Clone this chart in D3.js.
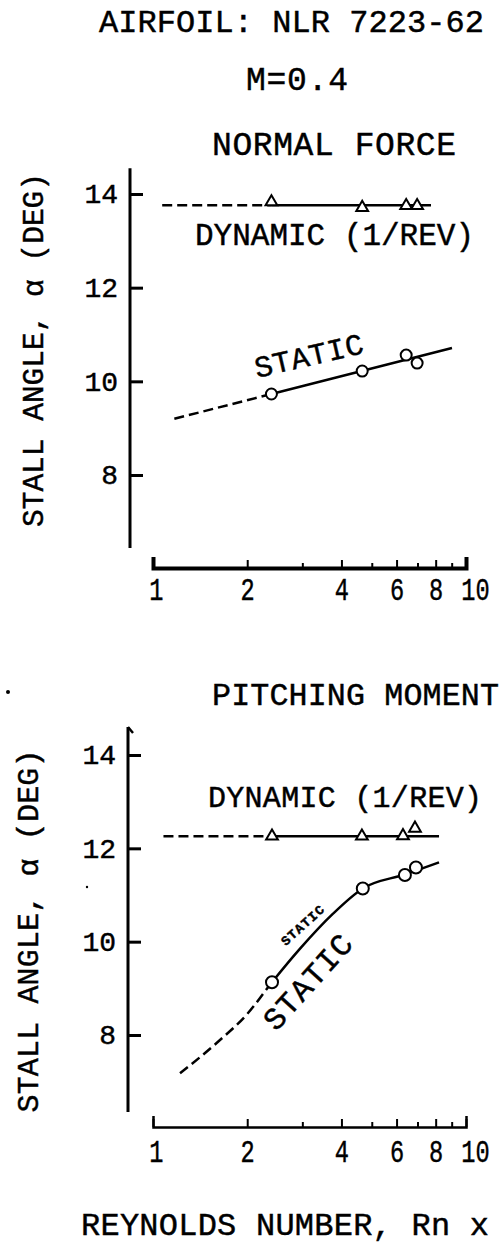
<!DOCTYPE html>
<html>
<head>
<meta charset="utf-8">
<script src="https://cdn.jsdelivr.net/npm/d3@7"></script>
<style>
  html, body { margin: 0; padding: 0; background: #fff; }
  svg text { font-family: "Liberation Mono", "DejaVu Sans Mono", monospace; fill: #000; stroke: #000; stroke-width: 0.45px; }
</style>
</head>
<body>
<svg id="chart" width="500" height="1245"></svg>
<script>
// Axis ticks (Reynolds number x 10^6, stall angle in degrees)
const xTickValues = [1, 2, 4, 6, 8, 10];
const xMinorValues = [3, 5, 7, 9];
const yTickValues = [8, 10, 12, 14];

// Normal force stall: dynamic (1/rev) test points and fairing
const nfDynamicRe = [2.39, 4.66, 6.44, 6.98];
const nfDynamicAlpha = [13.83, 13.71, 13.75, 13.75];
const nfDynamicDashRe = [1.07, 2.39];
const nfDynamicDashAlpha = [13.76, 13.76];
const nfDynamicSolidRe = [2.39, 7.73];
const nfDynamicSolidAlpha = [13.76, 13.76];

// Normal force stall: static test points and fairing
const nfStaticRe = [2.39, 4.66, 6.44, 6.98];
const nfStaticAlpha = [9.73, 10.22, 10.56, 10.39];
const nfStaticFairRe = [1.17, 2.39, 9.02];
const nfStaticFairAlpha = [9.20, 9.73, 10.71];

// Pitching moment stall: dynamic (1/rev) test points and fairing
const pmDynamicRe = [2.40, 4.65, 6.29, 6.87];
const pmDynamicAlpha = [12.26, 12.26, 12.27, 12.43];
const pmDynamicDashRe = [1.08, 2.40];
const pmDynamicDashAlpha = [12.26, 12.26];
const pmDynamicSolidRe = [2.40, 8.20];
const pmDynamicSolidAlpha = [12.26, 12.26];

// Pitching moment stall: static test points and fairing (dashed below Rn = 2.4)
const pmStaticRe = [2.40, 4.68, 6.38, 6.92];
const pmStaticAlpha = [9.13, 11.14, 11.43, 11.59];
const pmStaticFairRe = [1.22, 1.61, 2.00, 2.40, 2.95, 3.76, 4.68, 6.38, 8.20];
const pmStaticFairAlpha = [7.18, 7.85, 8.45, 9.13, 9.85, 10.60, 11.14, 11.44, 11.70];

const zip = (xs, ys) => xs.map((x, i) => [x, ys[i]]);

const svg = d3.select("#chart");
svg.append("rect").attr("width", 500).attr("height", 1245).attr("fill", "#fff");
const defs = svg.append("defs");

// Set a text run to a given overall length (squeezing glyphs only when needed)
function fit(t, len) {
  const natural = t.node().getComputedTextLength();
  t.attr("textLength", len).attr("lengthAdjust", natural > len ? "spacingAndGlyphs" : "spacing");
  return t;
}

function text(x, y, str, size, len, opts = {}) {
  const t = svg.append("text")
    .attr("x", x).attr("y", y)
    .attr("font-size", size)
    .attr("text-anchor", opts.anchor || "start")
    .text(str);
  if (opts.rotate !== undefined) t.attr("transform", `rotate(${opts.rotate},${x},${y})`);
  if (opts.baseline) t.attr("dominant-baseline", opts.baseline);
  if (opts.bold) t.attr("font-weight", "bold");
  if (len) fit(t, len);
  return t;
}

// Headings
text(99, 32, "AIRFOIL: NLR 7223-62", 32, 385);
text(246, 90, "M=0.4", 33, 102);
text(212, 155, "NORMAL FORCE", 33, 244);
text(212, 705, "PITCHING MOMENT", 31.7, 287);
text(81, 1235, "REYNOLDS NUMBER, Rn x", 32, 408);

let clipId = 0;
function panel(cfg) {
  const x = d3.scaleLog().domain([1, 10]).range([153, 466]);
  const y = d3.scaleLinear().domain([8, 14]).range(cfg.yRange);
  const g = svg.append("g");

  // Vertical axis line and ticks
  g.append("line")
    .attr("x1", cfg.axisX).attr("x2", cfg.axisX)
    .attr("y1", y(cfg.yExtent[0])).attr("y2", y(cfg.yExtent[1]))
    .attr("stroke", "#000").attr("stroke-width", 3);
  if (cfg.hook) {
    g.append("path")
      .attr("d", `M${cfg.axisX},${y(cfg.yExtent[1])} l5,6`)
      .attr("stroke", "#000").attr("stroke-width", 2.5).attr("fill", "none");
  }
  const yAxis = g.append("g")
    .attr("transform", `translate(${cfg.axisX},0)`)
    .call(d3.axisLeft(y).tickValues(yTickValues).tickSize(-13).tickPadding(12).tickFormat(d3.format("d")));
  yAxis.select(".domain").remove();
  yAxis.selectAll(".tick line").attr("stroke-width", 3);
  yAxis.selectAll(".tick text").attr("font-size", 28).attr("font-family", null);

  // Reynolds number axis (log), ticks pointing up
  const xAxis = g.append("g")
    .attr("transform", `translate(0,${cfg.xAxisY})`)
    .call(d3.axisBottom(x).tickValues(xTickValues).tickSize(-8).tickSizeOuter(-11).tickFormat(d3.format("d")));
  xAxis.select(".domain").attr("stroke-width", cfg.xAxisWidth);
  xAxis.selectAll(".tick line").attr("stroke-width", 2);
  xAxis.selectAll(".tick text")
    .attr("font-size", 32).attr("font-family", null)
    .attr("stroke-width", 0.7)
    .attr("y", cfg.labelOffset).attr("dy", 0)
    .attr("dx", d => d === 10 ? 12 : (d === 1 ? 4 : 0))
    .attr("transform", "scale(0.74,1)");
  const minor = g.append("g")
    .attr("transform", `translate(0,${cfg.xAxisY})`)
    .call(d3.axisBottom(x).tickValues(xMinorValues).tickSize(-5).tickFormat(""));
  minor.select(".domain").remove();
  minor.selectAll(".tick line").attr("stroke-width", 2);

  // Axis title
  text(cfg.titleX, cfg.titleY, "STALL ANGLE, α (DEG)", cfg.titleSize, cfg.titleLen, { anchor: "middle", rotate: -90 });

  const line = d3.line().x(d => x(d[0])).y(d => y(d[1]));
  const curve = d3.line().x(d => x(d[0])).y(d => y(d[1])).curve(d3.curveMonotoneX);

  const draw = (pts, dashed, gen = line, clip = null) => g.append("path")
    .attr("d", gen(pts))
    .attr("fill", "none").attr("stroke", "#000").attr("stroke-width", 2.5)
    .attr("stroke-dasharray", dashed ? "10,5" : null)
    .attr("clip-path", clip);

  draw(zip(cfg.dynDashRe, cfg.dynDashAlpha), true);
  draw(zip(cfg.dynSolidRe, cfg.dynSolidAlpha), false);

  // Static fairing: one smooth curve, dashed left of the first test point, solid to the right
  const fair = zip(cfg.stFairRe, cfg.stFairAlpha);
  const split = x(cfg.stRe[0]);
  const leftId = `clipL${clipId}`, rightId = `clipR${clipId++}`;
  defs.append("clipPath").attr("id", leftId).append("rect")
    .attr("x", 0).attr("y", 0).attr("width", split).attr("height", 1245);
  defs.append("clipPath").attr("id", rightId).append("rect")
    .attr("x", split).attr("y", 0).attr("width", 500 - split).attr("height", 1245);
  const gen = cfg.curved ? curve : line;
  draw(fair, true, gen, `url(#${leftId})`);
  draw(fair, false, gen, `url(#${rightId})`);

  // Dynamic points: open triangles
  g.selectAll(".tri").data(zip(cfg.dynRe, cfg.dynAlpha)).join("path")
    .attr("transform", d => `translate(${x(d[0])},${y(d[1])})`)
    .attr("d", d3.symbol(d3.symbolTriangle, 60))
    .attr("fill", "#fff").attr("stroke", "#000").attr("stroke-width", 2);

  // Static points: open circles
  g.selectAll(".pt").data(zip(cfg.stRe, cfg.stAlpha)).join("circle")
    .attr("cx", d => x(d[0])).attr("cy", d => y(d[1]))
    .attr("r", cfg.r)
    .attr("fill", "#fff").attr("stroke", "#000").attr("stroke-width", 2);
}

panel({
  yRange: [475, 194], yExtent: [6.44, 14.55], axisX: 130, hook: false,
  xAxisY: 568, xAxisWidth: 4, labelOffset: 32,
  titleX: 43, titleY: 350, titleSize: 29.5, titleLen: 354,
  dynRe: nfDynamicRe, dynAlpha: nfDynamicAlpha,
  dynDashRe: nfDynamicDashRe, dynDashAlpha: nfDynamicDashAlpha,
  dynSolidRe: nfDynamicSolidRe, dynSolidAlpha: nfDynamicSolidAlpha,
  stRe: nfStaticRe, stAlpha: nfStaticAlpha,
  stFairRe: nfStaticFairRe, stFairAlpha: nfStaticFairAlpha,
  curved: false, r: 5.5
});

panel({
  yRange: [1035, 755], yExtent: [6.35, 14.6], axisX: 128, hook: true,
  xAxisY: 1127, xAxisWidth: 2.5, labelOffset: 35,
  titleX: 38, titleY: 931, titleSize: 30, titleLen: 363,
  dynRe: pmDynamicRe, dynAlpha: pmDynamicAlpha,
  dynDashRe: pmDynamicDashRe, dynDashAlpha: pmDynamicDashAlpha,
  dynSolidRe: pmDynamicSolidRe, dynSolidAlpha: pmDynamicSolidAlpha,
  stRe: pmStaticRe, stAlpha: pmStaticAlpha,
  stFairRe: pmStaticFairRe, stFairAlpha: pmStaticFairAlpha,
  curved: true, r: 6
});

// Curve labels
text(195, 245, "DYNAMIC (1/REV)", 31, 279);
text(208, 807, "DYNAMIC (1/REV)", 30, 274);
text(257, 378, "STATIC", 30, 111, { rotate: -13 });
text(309, 983, "STATIC", 31, 117, { anchor: "middle", baseline: "central", rotate: -48 });
text(303, 926, "STATIC", 13, 53, { anchor: "middle", baseline: "central", rotate: -42, bold: true });

// Stray ink specks on the sheet
svg.append("circle").attr("cx", 8).attr("cy", 692).attr("r", 2).attr("fill", "#000");
svg.append("circle").attr("cx", 87).attr("cy", 887).attr("r", 1.2).attr("fill", "#000");
</script>
</body>
</html>
